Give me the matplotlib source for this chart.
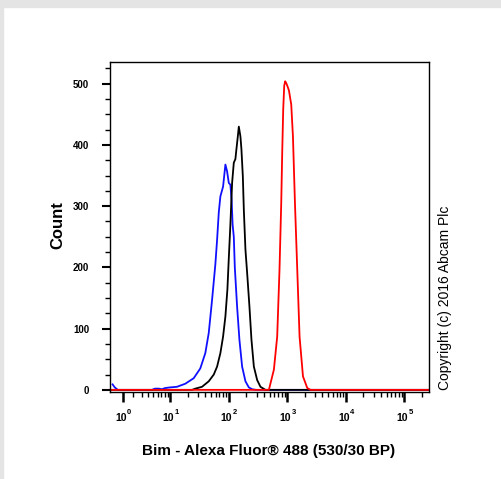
import matplotlib.pyplot as plt
from matplotlib.patches import Rectangle

plt.rcParams['font.family'] = ['Liberation Sans', 'DejaVu Sans']

# Bim - Alexa Fluor 488 intensity vs event count
blue_x = [0.19, 0.36, 0.59, 4.74, 5.38, 6.35, 7.17, 8.2, 9.9, 13.1, 18.2, 25.4,
          32.9, 40.1, 45.9, 52.3, 59.5, 63.7, 68.1, 72.5, 80.6, 88.3, 94.3,
          100.9, 107.4, 112.7, 117.2, 122.8, 127.8, 139.8, 153.1, 170.3, 194,
          221.7, 252.5, 295, 262144]
blue_y = [9, 4, 0, 0, 2, 2, 1, 3, 4, 5, 10, 19, 35, 60, 93, 147, 205, 245, 290,
          316, 332, 368, 357, 338, 335, 310, 270, 250, 200, 136, 82, 38, 14, 4,
          1, 0, 0]

black_x = [0, 23.8, 27.1, 35.2, 45.9, 55.9, 63.7, 72.5, 80.6, 88.3, 95.5, 100.9,
           107.4, 114.9, 122.8, 130.8, 136.1, 143.8, 149.6, 159.3, 165.7, 175.1,
           182.1, 194, 207.4, 227, 245.7, 270, 307.5, 350, 426, 262144]
black_y = [0, 0, 2, 5, 14, 25, 38, 60, 87, 120, 164, 215, 270, 338, 371, 377,
           393, 414, 430, 414, 393, 349, 294, 229, 191, 136, 82, 38, 16, 5, 0, 0]

red_x = [0, 487, 593, 675, 739, 791, 822, 855, 890, 925, 963, 1010, 1071, 1172,
         1253, 1356, 1485, 1625, 1858, 2201, 2508, 262144]
red_y = [0, 0, 33, 87, 196, 305, 387, 458, 497, 504, 501, 496, 489, 466, 414,
         305, 196, 87, 22, 3, 0, 0]

xticks = [1, 10, 100, 1000, 10000, 100000]
xexps = ['0', '1', '2', '3', '4', '5']
yticks = [0, 100, 200, 300, 400, 500]

fig = plt.figure(figsize=(5.02, 4.79), dpi=100)
# light grey frame at top and left of the picture
fig.patches.append(Rectangle((0, 472 / 479), 1, 7 / 479, transform=fig.transFigure,
                             color='#e4e4e4', zorder=0))
fig.patches.append(Rectangle((0, 0), 3 / 502, 1, transform=fig.transFigure,
                             color='#e4e4e4', zorder=0))

ax = fig.add_axes([110 / 502, 1 - 391.7 / 479, 319 / 502, 330 / 479])
ax.plot(blue_x, blue_y, color='#1010ff', lw=1.3)
ax.plot(black_x, black_y, color='black', lw=1.3)
ax.plot(red_x, red_y, color='#ff0000', lw=1.3)

ax.set_xscale('asinh', linear_width=1.9)
ax.set_xlim(0, 262144)
ax.set_ylim(-3, 536)

minor_x = [m * 10 ** d for d in range(0, 6) for m in range(2, 10) if m * 10 ** d < 262144]
ax.set_xticks(xticks)
ax.set_xticklabels([])
ax.set_xticks(minor_x, minor=True)
ax.set_yticks(yticks)
ax.set_yticks(list(range(0, 526, 25)), minor=True)

# decade labels: "10" with a raised exponent
for v, e in zip(xticks, xexps):
    ax.annotate('10', xy=(v, 0), xycoords=('data', 'axes fraction'),
                xytext=(2.6, -15.5), textcoords='offset points',
                ha='right', va='top', fontsize=7.5, fontweight='bold')
    ax.annotate(e, xy=(v, 0), xycoords=('data', 'axes fraction'),
                xytext=(3.0, -12.8), textcoords='offset points',
                ha='left', va='top', fontsize=5.5, fontweight='bold')

ax.tick_params(axis='x', which='major', length=7, width=1.8)
ax.tick_params(axis='x', which='minor', length=3.5, width=1)
ax.tick_params(axis='y', which='major', length=6, width=1.5, pad=9, labelsize=7)
ax.tick_params(axis='y', which='minor', length=3.5, width=1)
for lbl in ax.get_yticklabels():
    lbl.set_fontweight('bold')
for sp in ax.spines.values():
    sp.set_linewidth(1.0)

fig.text(58 / 502, 1 - 225 / 479, 'Count', rotation=90, ha='center', va='center',
         fontsize=12, fontweight='bold')
fig.text(269 / 502, 1 - 451 / 479, 'Bim - Alexa Fluor® 488 (530/30 BP)',
         ha='center', va='center', fontsize=11, fontweight='bold')
fig.text(445 / 502, 1 - 298 / 479, 'Copyright (c) 2016 Abcam Plc', rotation=90,
         ha='center', va='center', fontsize=10)

fig.savefig('out.png', dpi=100)
